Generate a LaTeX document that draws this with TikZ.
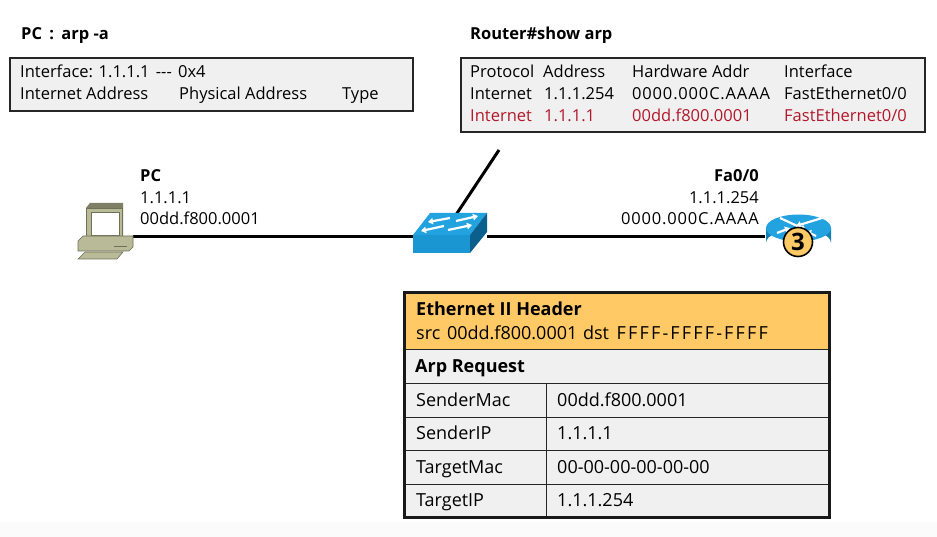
\documentclass[tikz,border=0pt]{standalone}
\usepackage{fontspec}
\setmainfont{Open Sans}
\usetikzlibrary{arrows.meta}
\definecolor{panelgrey}{HTML}{F0F0F0}
\definecolor{headorange}{HTML}{FFC965}
\definecolor{arpred}{HTML}{B2182B}
\definecolor{swtop}{HTML}{22A3E0}
\definecolor{swfront}{HTML}{1A97D2}
\definecolor{swside}{HTML}{0B5F8C}
\definecolor{rtside}{HTML}{1380B5}
\definecolor{pcbody}{HTML}{B9BA98}
\definecolor{pcdark}{HTML}{6F7058}
\newcommand{\widecaps}[1]{{\addfontfeature{LetterSpace=5}#1}}
\newcommand{\widerf}[1]{{\addfontfeature{LetterSpace=12}#1}}
\tikzset{
  txt/.style={anchor=base west, inner sep=0pt, font=\fontsize{16.5}{20}\selectfont},
  txtr/.style={txt, anchor=base east},
  bold/.style={txt, font=\fontsize{16.5}{20}\selectfont\bfseries},
  boldr/.style={bold, anchor=base east},
  red/.style={txt, text=arpred},
  big/.style={txt, font=\fontsize{18}{20}\selectfont},
  bigbold/.style={txt, font=\fontsize{18}{20}\selectfont\bfseries},
  panel/.style={draw=black!85, line width=2pt, fill=panelgrey, shape=rectangle, anchor=north west, inner sep=0pt},
  cell/.style={draw=black!85, line width=1.4pt, fill=panelgrey, shape=rectangle, anchor=north west, inner sep=0pt},
  icon/.style={shape=rectangle, anchor=center, inner sep=0pt},
  link/.style={line width=3pt},
  flow/.style={white, line width=2.2pt, -{Triangle[length=5pt, width=6.5pt]}}
}
\begin{document}
\begin{tikzpicture}[x=1pt,y=-1pt]
\useasboundingbox (0, 0) rectangle (937, 537);
\fill[black!1.5] (0, 522) rectangle (937, 537);
% icons are placed first so links can refer to them
\draw (105.5, 237) node[icon, minimum width=55pt, minimum height=54pt] (pc) {};
\draw (450, 237) node[icon, minimum width=74pt, minimum height=48pt] (sw) {};
\draw (798.5, 237) node[icon, minimum width=66pt, minimum height=42pt] (rt) {};
\coordinate (tap) at (499, 150);
\draw[link] (pc.east) -- (sw.west);
\draw[link] (sw.east) -- (rt.west);
\draw[link] (sw.north) ++(6, 2) -- (tap);
% pc
\fill[pcdark!80!pcbody] (86, 208) -- (90, 203) -- (123, 203) -- (123, 238) -- (86, 238) -- cycle;
\draw[pcdark, fill=pcbody, line width=.8pt] (86, 208) rectangle (122, 238);
\draw[pcdark, fill=white, line width=.8pt] (91, 212) rectangle (119, 235);
\draw[pcdark, fill=pcbody, line width=.6pt] (78, 241) -- (83, 236) -- (133, 236) -- (133, 247) -- (129, 251) -- (78, 251) -- cycle;
\draw[pcdark, line width=.8pt] (114, 246) -- (127, 246);
\draw[pcdark, fill=pcbody, line width=.6pt] (78, 259) -- (85, 252) -- (123, 252) -- (117, 259) -- cycle;
% switch
\fill[swfront] (413, 235) rectangle (470, 253);
\fill[swtop] (413, 235) -- (430, 213) -- (487, 213) -- (470, 235) -- cycle;
\fill[swside] (470, 235) -- (487, 213) -- (487, 232) -- (470, 253) -- cycle;
\draw[flow] (450, 218) -- (428, 222);
\draw[flow] (456, 221) -- (478, 216);
\draw[flow] (444, 226) -- (421, 231);
\draw[flow] (448, 230) -- (472, 225);
% router
\fill[rtside] (766, 228) -- (766, 243) arc[start angle=180, end angle=360, x radius=32.5, y radius=14] -- (831, 228) -- cycle;
\fill[swtop] (798.5, 228) ellipse[x radius=32.5, y radius=13.5];
\draw[flow] (780, 218) -- (806, 230);
\draw[flow] (822, 218) -- (796, 226);
\draw[flow] (777, 233) -- (790, 228);
\draw[flow] (816, 236) -- (806, 231);
\draw (798, 242) node[circle, draw=black, line width=1.6pt, fill=headorange, minimum size=29pt, inner sep=0pt, font=\fontsize{24}{24}\selectfont\bfseries] (badge) {3};
% pc labels
\draw (140, 182) node[bold] (pcname) {PC};
\draw (140, 204) node[txt] (pcip) {1.1.1.1};
\draw (140, 225) node[txt] (pcmac) {00dd.f800.0001};
\draw (759, 182) node[boldr] (rtname) {Fa0/0};
\draw (759, 204) node[txtr] (rtip) {1.1.1.254};
\draw (759, 225) node[txtr] (rtmac) {\widecaps{0000.000C.AAAA}};
% pc table
\draw (21, 40) node[bold] (pctitle) {PC\kern3pt{} :\kern3pt{} arp -a};
\draw (9, 57) node[panel, minimum width=403pt, minimum height=53pt] (pcbox) {};
\draw (20, 78) node[txt] (pcline) {Interface: 1.1.1.1\kern2pt{} {-}{-}{-}\kern2pt{} 0x4};
\draw (20, 100) node[txt] (pcinet) {Internet Address};
\draw (179, 100) node[txt] (pcphys) {Physical Address};
\draw (342, 100) node[txt] (pctype) {Type};
% router table
\draw (470, 40) node[bold] (rttitle) {Router\#show arp};
\draw (460, 57) node[panel, minimum width=464pt, minimum height=74pt] (rtbox) {};
\draw (470, 78) node[txt] (hproto) {Protocol};
\draw (543, 78) node[txt] (haddr) {Address};
\draw (632, 78) node[txt] (hhw) {Hardware Addr};
\draw (784, 78) node[txt] (hif) {Interface};
\draw (470, 100) node[txt] (aproto) {Internet};
\draw (544, 100) node[txt] (aaddr) {1.1.1.254};
\draw (632, 100) node[txt] (ahw) {\widecaps{0000.000C.AAAA}};
\draw (784, 100) node[txt] (aif) {FastEthernet0/0};
\draw (470, 122) node[red] (bproto) {Internet};
\draw (544, 122) node[red] (baddr) {1.1.1.1};
\draw (632, 122) node[red] (bhw) {00dd.f800.0001};
\draw (784, 122) node[red] (bif) {FastEthernet0/0};
% packet
\draw (404, 293) node[cell, fill=headorange, minimum width=425pt, minimum height=56pt] (eth) {};
\draw (404, 349) node[cell, minimum width=425pt, minimum height=34pt] (arp) {};
\draw (416, 316) node[bigbold] (ethname) {Ethernet II Header};
\draw (416, 339) node[big] (ethaddr) {src\kern2pt{} 00dd.f800.0001\kern1pt{} dst\kern3pt{} \widerf{FFFF-FFFF-FFFF}};
\draw (415, 372) node[bigbold] (arpname) {Arp Request};
\foreach \ypos/\key/\val/\id in {383/SenderMac/00dd.f800.0001/sm, 416.5/SenderIP/1.1.1.1/si, 450/TargetMac/00-00-00-00-00-00/tm, 483.5/TargetIP/1.1.1.254/ti} {
  \draw (404, \ypos) node[cell, minimum width=142pt, minimum height=33.5pt] (\id k) {};
  \draw (546, \ypos) node[cell, minimum width=283pt, minimum height=33.5pt] (\id v) {};
  \draw (416, \ypos+23) node[big] (\id kt) {\key};
  \draw (557, \ypos+23) node[big] (\id vt) {\val};
}
\draw[line width=3pt, black!90] (404, 293) rectangle (829, 517);
\end{tikzpicture}
\end{document}
